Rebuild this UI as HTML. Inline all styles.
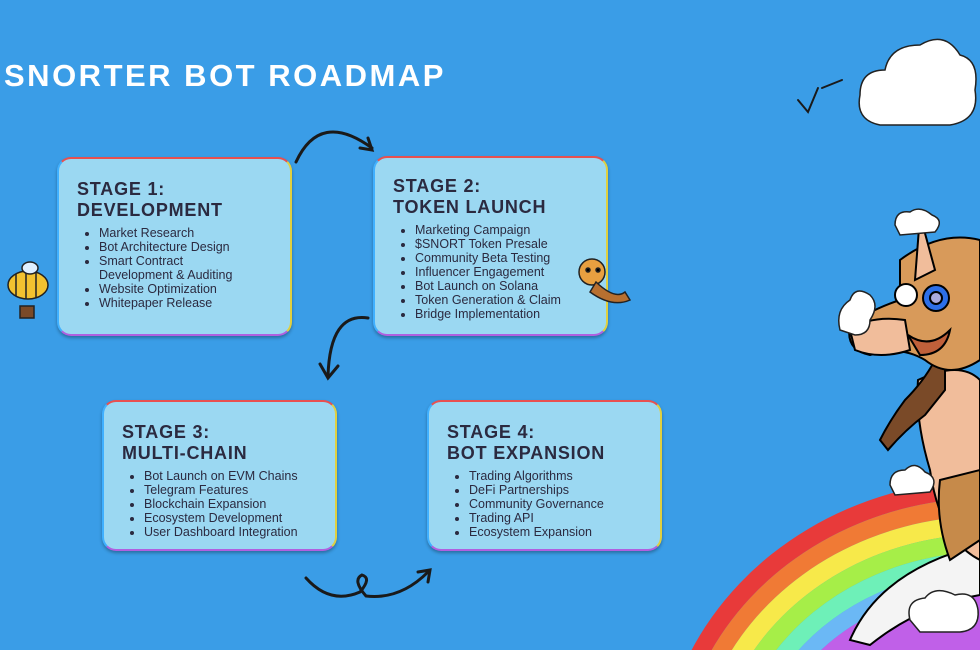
<!DOCTYPE html>
<html><head><style>
body{margin:0;width:980px;height:653px;overflow:hidden;background:#3a9de7;font-family:"Liberation Sans",sans-serif;position:relative}
.t{position:absolute;left:4px;top:58px;color:#fff;font:900 31px "Liberation Sans",sans-serif;letter-spacing:2.5px}
.box{position:absolute;width:235px;border-radius:14px;background:#9bd8f2;border:2px solid;border-color:#e85050 #e0d040 #b060e0 #40b0ff;box-sizing:border-box;padding:20px 0 0 18px;box-shadow:0 2px 3px rgba(0,0,0,.3)}
.box h3{margin:0 0 5px;font:900 18px/21px "Liberation Sans",sans-serif;color:#2b2a40;letter-spacing:.8px}
.box ul{margin:0;padding-left:22px;font-size:12.5px;line-height:14px;color:#2b2a40}
</style></head><body>
<div class="t">SNORTER BOT ROADMAP</div>
<div class="box" style="left:57px;top:157px;height:179px"><h3>STAGE 1:<br>DEVELOPMENT</h3><ul><li>Market Research</li><li>Bot Architecture Design</li><li>Smart Contract<br>Development &amp; Auditing</li><li>Website Optimization</li><li>Whitepaper Release</li></ul></div>
<div class="box" style="left:373px;top:156px;height:180px;padding-top:18px"><h3>STAGE 2:<br>TOKEN LAUNCH</h3><ul><li>Marketing Campaign</li><li>$SNORT Token Presale</li><li>Community Beta Testing</li><li>Influencer Engagement</li><li>Bot Launch on Solana</li><li>Token Generation &amp; Claim</li><li>Bridge Implementation</li></ul></div>
<div class="box" style="left:102px;top:400px;height:151px"><h3>STAGE 3:<br>MULTI-CHAIN</h3><ul><li>Bot Launch on EVM Chains</li><li>Telegram Features</li><li>Blockchain Expansion</li><li>Ecosystem Development</li><li>User Dashboard Integration</li></ul></div>
<div class="box" style="left:427px;top:400px;height:151px"><h3>STAGE 4:<br>BOT EXPANSION</h3><ul><li>Trading Algorithms</li><li>DeFi Partnerships</li><li>Community Governance</li><li>Trading API</li><li>Ecosystem Expansion</li></ul></div>
<svg width="980" height="653" style="position:absolute;left:0;top:0" fill="none" stroke="#1a1a1a" stroke-width="3" stroke-linecap="round">
<path d="M296 162 Q320 110 372 148"/><path d="M360 148 L372 150 L368 138"/>
<path d="M368 318 Q330 312 328 376"/><path d="M320 364 L328 378 L338 366"/>
<path d="M306 578 Q330 605 360 592 Q372 578 362 575 Q352 580 366 596 Q400 600 428 572"/><path d="M418 572 L430 570 L428 582"/>
<path d="M798 100 L808 112 L818 88 M822 88 L842 80" stroke-width="2"/>
<g stroke="none">
<path d="M690 653 A330 300 0 0 1 980 480 L980 498 A312 282 0 0 0 710 653Z" fill="#e83a3a"/>
<path d="M710 653 A312 282 0 0 1 980 498 L980 516 A294 264 0 0 0 730 653Z" fill="#f07a35"/>
<path d="M730 653 A294 264 0 0 1 980 516 L980 534 A276 246 0 0 0 752 653Z" fill="#f7e94a"/>
<path d="M752 653 A276 246 0 0 1 980 534 L980 552 A258 228 0 0 0 774 653Z" fill="#a6ee48"/>
<path d="M774 653 A258 228 0 0 1 980 552 L980 570 A240 210 0 0 0 796 653Z" fill="#6ef0b8"/>
<path d="M796 653 A240 210 0 0 1 980 570 L980 588 A222 192 0 0 0 818 653Z" fill="#6bb8f5"/>
<path d="M818 653 A222 192 0 0 1 980 588 L980 653Z" fill="#c060e8"/>
</g>
<g stroke="#000" stroke-width="2">
<path d="M850 640 Q880 570 980 545 L980 595 Q920 605 870 645Z" fill="#f4f4f4"/>
<path d="M918 380 Q960 360 980 380 L980 560 Q940 540 930 470 Q915 420 918 380Z" fill="#f1bd9b"/>
<path d="M945 335 Q935 370 905 400 Q890 420 880 440 L888 450 Q905 430 925 415 L945 390Z" fill="#7a4a28"/>
<path d="M940 480 L980 470 L980 540 L950 560 Q935 520 940 480Z" fill="#c68a4a"/>
<path d="M900 260 Q940 230 980 240 L980 360 Q950 380 925 360 Q900 345 870 355 Q845 350 850 325 Q870 310 900 300Z" fill="#d89a5a"/>
<path d="M850 330 Q870 315 905 320 L910 350 Q880 360 855 350Z" fill="#f1bd9b"/>
<path d="M920 215 L935 270 L915 280Z" fill="#f1bd9b"/>
<circle cx="906" cy="295" r="11" fill="#fff"/><circle cx="936" cy="298" r="13" fill="#2d6fe8"/><circle cx="936" cy="298" r="6" fill="#aad"/>
<path d="M908 335 Q930 350 950 330 Q945 355 920 355Z" fill="#c0603a"/>
</g>
<g fill="#fff" stroke="#222" stroke-width="1.5">
<path d="M860 95 Q860 70 885 70 Q890 45 920 45 Q945 30 960 55 Q980 60 975 90 Q980 120 950 125 L880 125 Q855 120 860 95Z"/>
<path d="M895 225 Q895 210 910 212 Q920 205 932 215 Q945 220 935 232 L900 235Z"/>
<path d="M840 330 Q835 310 850 300 Q855 285 870 295 Q880 305 870 320 Q870 335 855 335Z"/>
<path d="M890 485 Q890 470 905 470 Q915 460 925 472 Q940 478 930 492 L895 495Z"/>
<path d="M910 620 Q905 600 925 598 Q935 585 955 595 Q975 590 978 610 Q980 630 960 632 L920 632Z"/>
</g>
<g stroke="#222" stroke-width="1.5">
<ellipse cx="28" cy="285" rx="20" ry="14" fill="#f3c230"/><path d="M16 274 L16 296 M26 272 L26 298 M36 273 L36 297"/><ellipse cx="30" cy="268" rx="8" ry="6" fill="#dfefff"/><rect x="20" y="306" width="14" height="12" fill="#7a4a28"/>
<circle cx="592" cy="272" r="13" fill="#e8a040"/><path d="M596 282 Q615 300 625 292 L630 300 Q612 308 590 292Z" fill="#b87030"/><circle cx="588" cy="270" r="2" fill="#000"/><circle cx="598" cy="270" r="2" fill="#000"/>
</g>
</svg>
<div style="position:absolute;left:0;top:650px;width:980px;height:3px;background:#fff"></div>
</body></html>
